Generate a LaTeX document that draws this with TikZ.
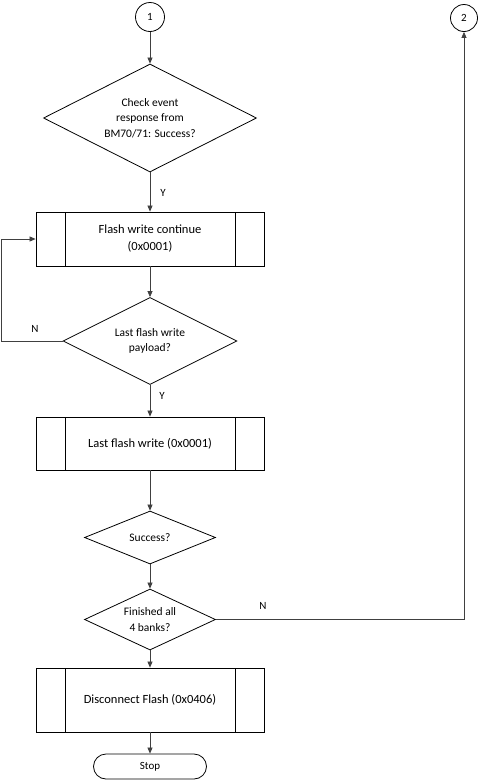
\documentclass[tikz,border=0pt]{standalone}
\usepackage{fontspec}
\setmainfont{Carlito}
\usetikzlibrary{shapes.geometric,arrows.meta}
\begin{document}
\begin{tikzpicture}[x=1pt,y=-1pt,
  shapeline/.style={draw=black, line width=0.8pt},
  conn/.style={draw=black!75, line width=0.7pt, -{Triangle[length=6pt,width=5pt]}},
  lbl/.style={inner sep=0pt, font=\fontsize{11}{13}\selectfont},
  conncirc/.style={circle, shapeline, minimum size=29pt, inner sep=0pt, font=\fontsize{11}{13}\selectfont},
  decision/.style={diamond, shapeline, inner sep=0pt, align=center, font=\fontsize{11.5}{15.5}\selectfont},
  subproc/.style={rectangle, shapeline, minimum width=228pt, minimum height=54pt, align=center,
    font=\fontsize{12.5}{17}\selectfont,
    path picture={\draw[line width=0.8pt]
      ([xshift=29pt]path picture bounding box.north west) -- ([xshift=29pt]path picture bounding box.south west)
      ([xshift=-29pt]path picture bounding box.north east) -- ([xshift=-29pt]path picture bounding box.south east);}},
  terminal/.style={rectangle, shapeline, rounded corners=12.5pt, minimum width=113pt, minimum height=25pt,
    inner sep=0pt, font=\fontsize{11}{13}\selectfont}
]
\useasboundingbox[fill=white] (0,0) rectangle (480,780);

\node[conncirc] (c1) at (150,17) {1};
\node[conncirc, minimum size=27pt] (c2) at (464,18) {2};
\node[decision, aspect=2, minimum width=213pt, minimum height=108pt] (d1) at (150,118) {Check event\\response from\\BM70/71: Success?};
\node[subproc] (p1) at (150,239) {Flash write continue\\(0x0001)};
\node[decision, aspect=2, minimum width=174pt, minimum height=87pt] (d2) at (150,341) {Last flash write\\payload?};
\node[subproc, minimum height=53pt] (p2) at (150,443.5) {Last flash write (0x0001)};
\node[decision, aspect=2.47, minimum width=131pt, minimum height=53pt] (d3) at (150,537.5) {Success?};
\node[decision, aspect=2.15, minimum width=131pt, minimum height=61pt] (d4) at (150,619.5) {Finished all\\4 banks?};
\node[subproc, minimum height=64pt] (p3) at (150,700) {Disconnect Flash (0x0406)};
\node[terminal] (stop) at (150,766.5) {Stop};

\coordinate (lp1) at (1,341);
\coordinate (lp2) at (1,239);

\draw[conn] (c1) -- (d1);
\draw[conn] (d1) -- (p1);
\node[lbl] (y1) at (163,193) {Y};
\draw[conn] (p1) -- (d2);
\draw[conn] (d2.west) -- (lp1) -- (lp2) -- (p1.west);
\node[lbl] (n1) at (35,329) {N};
\draw[conn] (d2) -- (p2);
\node[lbl] (y2) at (162,396) {Y};
\draw[conn] (p2) -- (d3);
\draw[conn] (d3) -- (d4);
\draw[conn] (d4) -- (p3);
\draw[conn] (p3) -- (stop);
\draw[conn] (d4.east) -| (c2.south);
\node[lbl] (n2) at (263,606) {N};
\end{tikzpicture}
\end{document}
